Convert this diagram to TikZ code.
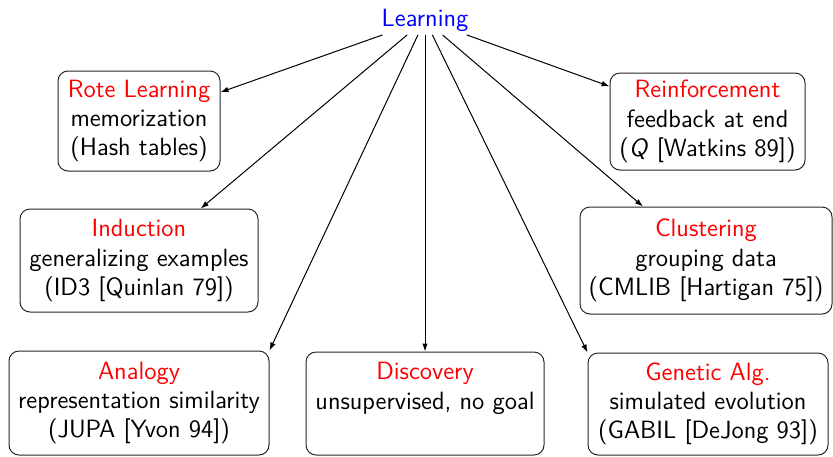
\documentclass[tikz,border=0pt]{standalone}
\usetikzlibrary{arrows.meta}
\begin{document}
\begin{tikzpicture}[x=0.5pt,y=-0.5pt,
  every node/.style={font=\sffamily\fontsize{12.5}{14.6}\selectfont},
  root/.style={text=blue, inner xsep=2pt, inner ysep=1.7pt},
  box/.style={draw=black!85, line width=0.5pt, rounded corners=5pt, align=center, inner sep=0pt},
  conn/.style={line width=0.5pt, -{Latex[length=4pt,width=2.8pt]}}]
\useasboundingbox (0,0) rectangle (833,456);
\node[root, anchor=base] (learn) at (425,26) {Learning};
\node[box, minimum width=81pt, minimum height=50pt] (rote) at (139,121)
  {\textcolor{red}{Rote Learning}\\memorization\\(Hash tables)};
\node[box, minimum width=97.5pt, minimum height=48.5pt] (reinf) at (707.5,121.5)
  {\textcolor{red}{Reinforcement}\\feedback at end\\(\textsl{Q} [Watkins 89])};
\node[box, minimum width=119pt, minimum height=51.5pt] (induct) at (139,260.5)
  {\textcolor{red}{Induction}\\generalizing examples\\(ID3 [Quinlan 79])};
\node[box, minimum width=126pt, minimum height=53.5pt] (clust) at (706,260.5)
  {\textcolor{red}{Clustering}\\grouping data\\(CMLIB [Hartigan 75])};
\node[box, minimum width=130pt, minimum height=52pt] (analogy) at (139,403)
  {\textcolor{red}{Analogy}\\representation similarity\\(JUPA [Yvon 94])};
\node[box, minimum width=119pt, minimum height=51.5pt] (discov) at (425,403.5)
  {\textcolor{red}{Discovery}\\unsupervised, no goal\\\vphantom{(}};
\node[box, minimum width=120pt, minimum height=51pt] (genetic) at (708,404)
  {\textcolor{red}{Genetic Alg.}\\simulated evolution\\(GABIL [DeJong 93])};
\foreach \t in {rote,reinf,induct,clust,discov}
  \draw[conn] (learn) -- (\t);
\draw[conn] (learn) -- (analogy.north east);
\draw[conn] (learn) -- (genetic.north west);
\end{tikzpicture}
\end{document}
